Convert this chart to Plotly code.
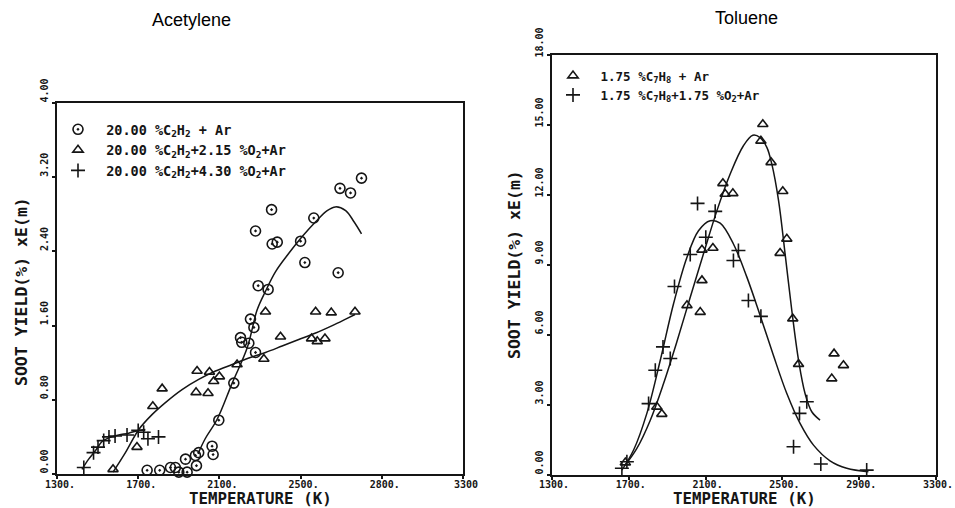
import plotly.graph_objects as go

# ---------------- data: Acetylene (left) ----------------
acet_circ_T = [1744, 1806, 1859, 1883, 1900, 1941, 1933, 1982, 1998, 1987, 2064, 2069, 2097,
               2171, 2204, 2210, 2245, 2253, 2270, 2278, 2278, 2291, 2340, 2357, 2360, 2385,
               2500, 2521, 2565, 2685, 2694, 2746, 2800]
acet_circ_Y = [0.04, 0.04, 0.07, 0.07, 0.02, 0.02, 0.16, 0.20, 0.23, 0.09, 0.30, 0.21, 0.58,
               0.98, 1.47, 1.42, 1.41, 1.67, 1.58, 1.31, 2.62, 2.03, 1.99, 2.85, 2.48, 2.50,
               2.51, 2.28, 2.76, 2.17, 3.08, 3.03, 3.19]
acet_circ_fit_T = [1995, 2030, 2089, 2163, 2237, 2286, 2327, 2376, 2442, 2508, 2574, 2631, 2672,
                   2722, 2763, 2800]
acet_circ_fit_Y = [0.22, 0.38, 0.59, 0.98, 1.36, 1.77, 1.97, 2.18, 2.38, 2.56, 2.72, 2.84, 2.88,
                   2.84, 2.72, 2.59]

acet_tri_T = [1576, 1694, 1772, 1818, 1990, 1985, 2044, 2051, 2072, 2100, 2187, 2319, 2327, 2401,
              2554, 2574, 2582, 2620, 2651, 2768]
acet_tri_Y = [0.05, 0.29, 0.73, 0.92, 1.11, 0.88, 0.87, 1.10, 1.00, 1.05, 1.18, 1.24, 1.75, 1.48,
              1.46, 1.75, 1.43, 1.46, 1.74, 1.75]
acet_tri_fit_T = [1576, 1637, 1703, 1768, 1834, 1916, 1998, 2081, 2163, 2245, 2327, 2409, 2491,
                  2574, 2656, 2722, 2768]
acet_tri_fit_Y = [0.02, 0.23, 0.48, 0.64, 0.77, 0.91, 1.02, 1.11, 1.18, 1.25, 1.31, 1.38, 1.45,
                  1.52, 1.60, 1.67, 1.72]

acet_plus_T = [1432, 1480, 1502, 1530, 1556, 1586, 1645, 1700, 1727, 1748, 1800]
acet_plus_Y = [0.07, 0.23, 0.29, 0.36, 0.40, 0.41, 0.42, 0.47, 0.45, 0.38, 0.40]
acet_plus_fit_T = [1423, 1456, 1489, 1522, 1555, 1604, 1653, 1703, 1735]
acet_plus_fit_Y = [0.05, 0.16, 0.25, 0.35, 0.39, 0.42, 0.44, 0.47, 0.48]

# ---------------- data: Toluene (right) ----------------
tol_tri_T = [1682, 1846, 1872, 2003, 2072, 2081, 2081, 2138, 2190, 2202, 2242, 2388, 2398, 2441,
             2488, 2502, 2523, 2554, 2584, 2757, 2769, 2818]
tol_tri_Y = [0.53, 2.92, 2.61, 7.27, 6.98, 8.34, 9.65, 9.73, 12.50, 12.04, 12.07, 14.32, 15.03,
             13.40, 9.51, 12.16, 10.12, 6.70, 4.75, 4.13, 5.20, 4.70]
tol_tri_fit_T = [1682, 1742, 1812, 1881, 1950, 2020, 2089, 2159, 2228, 2297, 2346, 2384, 2419,
                 2445, 2480, 2514, 2549, 2584, 2618, 2653, 2696]
tol_tri_fit_Y = [0.43, 1.14, 2.35, 3.92, 5.70, 7.62, 9.48, 11.33, 12.90, 14.11, 14.56, 14.46,
                 14.04, 13.32, 11.76, 9.48, 7.05, 4.92, 3.49, 2.71, 2.35]

tol_plus_T = [1664, 1690, 1803, 1838, 1878, 1916, 1938, 2020, 2058, 2101, 2150, 2245, 2271, 2323,
              2388, 2558, 2589, 2627, 2700, 2939]
tol_plus_Y = [0.29, 0.57, 3.06, 4.49, 5.49, 4.99, 8.08, 9.45, 11.64, 10.19, 11.30, 9.19, 9.62,
              7.48, 6.80, 1.21, 2.64, 3.14, 0.47, 0.21]
tol_plus_fit_T = [1664, 1725, 1794, 1864, 1933, 2003, 2063, 2124, 2176, 2245, 2315, 2384, 2453,
                  2523, 2592, 2662, 2748, 2835, 2948]
tol_plus_fit_Y = [0.21, 1.07, 2.64, 4.92, 7.34, 9.33, 10.47, 10.90, 10.79, 9.90, 8.48, 6.84, 5.13,
                  3.49, 2.21, 1.28, 0.61, 0.29, 0.14]

# ---------------- axis ticks ----------------
x_tickvals = [1300, 1700, 2100, 2500, 2900, 3300]
x_ticktext_left = ["1300.", "1700.", "2100.", "2500.", "2800.", "3300"]
x_ticktext_right = ["1300.", "1700.", "2100.", "2500.", "2900.", "3300."]
y_left_tickvals = [0, 0.8, 1.6, 2.4, 3.2, 4.0]
y_left_ticktext = ["0.00", "0.80", "1.60", "2.40", "3.20", "4.00"]
y_right_tickvals = [0, 3, 6, 9, 12, 15, 18]
y_right_ticktext = ["0.00", "3.00", "6.00", "9.00", "12.00", "15.00", "18.00"]

legend_left = ["\u00a020.00 %C<sub>2</sub>H<sub>2</sub> + Ar",
               "\u00a020.00 %C<sub>2</sub>H<sub>2</sub>+2.15 %O<sub>2</sub>+Ar",
               "\u00a020.00 %C<sub>2</sub>H<sub>2</sub>+4.30 %O<sub>2</sub>+Ar"]
legend_right = ["\u00a01.75 %C<sub>7</sub>H<sub>8</sub> + Ar",
                "\u00a01.75 %C<sub>7</sub>H<sub>8</sub>+1.75 %O<sub>2</sub>+Ar"]

INK = "#151515"
MONO = "DejaVu Sans Mono"
W, H = 955, 508

fig = go.Figure()


def add_points(x, y, name, symbol, size, xa, ya, leg):
    fig.add_trace(go.Scatter(
        x=x, y=y, mode="markers", name=name, xaxis=xa, yaxis=ya, legend=leg,
        cliponaxis=False,
        marker=dict(symbol=symbol, size=size, color=INK, line=dict(color=INK, width=1.6)),
    ))


def add_curve(x, y, xa, ya):
    fig.add_trace(go.Scatter(
        x=x, y=y, mode="lines", xaxis=xa, yaxis=ya, showlegend=False, hoverinfo="skip",
        line=dict(color=INK, width=1.5, shape="spline", smoothing=1.0),
    ))


add_curve(acet_circ_fit_T, acet_circ_fit_Y, "x", "y")
add_curve(acet_tri_fit_T, acet_tri_fit_Y, "x", "y")
add_curve(acet_plus_fit_T, acet_plus_fit_Y, "x", "y")
add_points(acet_circ_T, acet_circ_Y, legend_left[0], "circle-open-dot", 10, "x", "y", "legend")
add_points(acet_tri_T, acet_tri_Y, legend_left[1], "triangle-up-open", 9, "x", "y", "legend")
add_points(acet_plus_T, acet_plus_Y, legend_left[2], "cross-thin-open", 10, "x", "y", "legend")

add_curve(tol_tri_fit_T, tol_tri_fit_Y, "x2", "y2")
add_curve(tol_plus_fit_T, tol_plus_fit_Y, "x2", "y2")
add_points(tol_tri_T, tol_tri_Y, legend_right[0], "triangle-up-open", 9, "x2", "y2", "legend2")
add_points(tol_plus_T, tol_plus_Y, legend_right[1], "cross-thin-open", 10, "x2", "y2", "legend2")

xtickfont = dict(family=MONO, size=10, color=INK, weight="bold")
ytickfont = dict(family=MONO, size=10, color=INK, weight="bold")
axis_common = dict(showgrid=False, zeroline=False, showline=True, linecolor=INK, linewidth=2,
                   mirror=True, ticks="outside", ticklen=3, tickwidth=1.5, tickcolor=INK,
                   fixedrange=True, automargin=False)
xaxis_common = dict(tickfont=xtickfont, **axis_common)
yaxis_common = dict(tickfont=ytickfont, tickangle=-90, ticklabelshift=-11, **axis_common)


def px_x(p):
    return p / W


def px_y(p):
    return 1 - p / H


fig.update_layout(
    width=W, height=H, autosize=False,
    margin=dict(l=0, r=0, t=0, b=0, pad=0, autoexpand=False),
    paper_bgcolor="white", plot_bgcolor="white",
    xaxis=dict(domain=[px_x(57), px_x(463)], range=[1300, 3300], anchor="y",
               tickvals=x_tickvals, ticktext=x_ticktext_left, ticklabelshift=3,
               ticklabelstandoff=-3, **xaxis_common),
    yaxis=dict(domain=[px_y(474), px_y(103)], range=[0, 4], anchor="x",
               tickvals=y_left_tickvals, ticktext=y_left_ticktext, **yaxis_common),
    xaxis2=dict(domain=[px_x(552), px_x(936)], range=[1300, 3300], anchor="y2",
                tickvals=x_tickvals, ticktext=x_ticktext_right, ticklabelshift=2,
                ticklabelstandoff=-4, **xaxis_common),
    yaxis2=dict(domain=[px_y(475), px_y(55)], range=[0, 18], anchor="x2",
                tickvals=y_right_tickvals, ticktext=y_right_ticktext, **yaxis_common),
    legend=dict(x=px_x(58), y=px_y(114), xanchor="left", yanchor="top",
                bgcolor="rgba(0,0,0,0)", tracegroupgap=0,
                font=dict(family=MONO, size=13.5, color=INK, weight="bold")),
    legend2=dict(x=px_x(553), y=px_y(61), xanchor="left", yanchor="top",
                 bgcolor="rgba(0,0,0,0)", tracegroupgap=0,
                 font=dict(family=MONO, size=12.5, color=INK, weight="bold")),
    showlegend=True,
)

annots = [
    dict(text="Acetylene", x=px_x(191), y=px_y(20), font=dict(family="Liberation Sans", size=18, color="black")),
    dict(text="Toluene", x=px_x(746), y=px_y(18), font=dict(family="Liberation Sans", size=18, color="black")),
    dict(text="TEMPERATURE (K)", x=px_x(260), y=px_y(498.8), font=dict(family=MONO, size=15.8, color=INK, weight="bold")),
    dict(text="TEMPERATURE (K)", x=px_x(744), y=px_y(498.8), font=dict(family=MONO, size=15.8, color=INK, weight="bold")),
    dict(text="SOOT YIELD(%) xE(m)", x=px_x(21), y=px_y(292), textangle=-90,
         font=dict(family=MONO, size=16.5, color=INK, weight="bold")),
    dict(text="SOOT YIELD(%) xE(m)", x=px_x(514), y=px_y(265), textangle=-90,
         font=dict(family=MONO, size=16.5, color=INK, weight="bold")),
]
for a in annots:
    fig.add_annotation(xref="paper", yref="paper", xanchor="center", yanchor="middle",
                       showarrow=False, borderpad=0, **a)

fig.write_html("out.html")
